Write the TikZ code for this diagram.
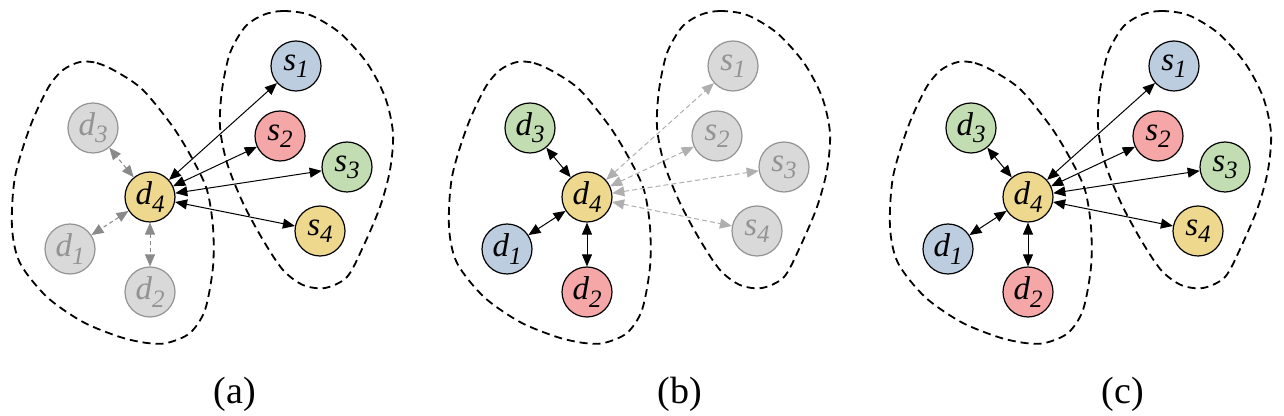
\documentclass[tikz,border=0pt]{standalone}
\usepackage{fontspec}
\setmainfont{Liberation Serif}
\usetikzlibrary{arrows.meta}
\definecolor{agentblue}{HTML}{BDCDE0}
\definecolor{agentred}{HTML}{F4A7A6}
\definecolor{agentgreen}{HTML}{C2DDB1}
\definecolor{agentyellow}{HTML}{EED88E}
\definecolor{fadefill}{HTML}{D9D9D9}
\definecolor{fadeline}{HTML}{939393}
\definecolor{dimgray}{HTML}{8A8A8A}
\definecolor{palegray}{HTML}{AFAFAF}
\newcommand{\idx}[1]{\raisebox{-0.22em}{\fontsize{12.5}{14}\selectfont #1}}
\tikzset{
		agent/.style={circle, draw, line width=0.6pt, minimum size=25pt, inner sep=0pt, font=\fontsize{16.5}{18}\selectfont\itshape},
		cblue/.style={fill=agentblue},
		cred/.style={fill=agentred},
		cgreen/.style={fill=agentgreen},
		cyellow/.style={fill=agentyellow},
		faded/.style={fill=fadefill, draw=fadeline, text=fadeline},
		plain/.style={},
		link/.style={<->, line width=0.5pt, >={Triangle[length=6pt, width=5pt]}},
		dimlink/.style={link, color=dimgray, dash pattern=on 2pt off 1.5pt},
		palelink/.style={link, color=palegray, dash pattern=on 2.5pt off 1.5pt},
		region/.style={line width=0.9pt, dash pattern=on 4pt off 2.5pt},
		caption/.style={font=\fontsize{19}{22}\selectfont}
	}

\begin{document}
\begin{tikzpicture}[x=0.5pt, y=-0.5pt]
		\useasboundingbox (0,0) rectangle (1284,416);
		\foreach \p/\dx/\cx/\dsty/\ssty/\dl/\sl in {a/0/235/faded/plain/dimlink/link, b/437/243/plain/faded/link/palelink, c/878/245/plain/plain/link/link}{
			\begin{scope}[shift={(\dx,0)}]
				% the two groups
				\draw[region] plot[smooth cycle] coordinates {(80,62) (97,63) (117,72) (143,90) (173,127) (193,160) (207,190) (213,227) (213,267) (205,310) (190,333) (167,343) (147,343) (120,337) (83,322) (47,297) (20,263) (12,227) (15,177) (30,127) (48,88) (63,70)};
				\draw[region] plot[smooth cycle] coordinates {(263,15) (283,11) (310,15) (340,33) (367,63) (385,97) (393,133) (390,170) (380,207) (363,247) (347,277) (325,288) (303,285) (283,270) (263,240) (243,203) (227,163) (220,127) (222,90) (230,53) (245,27)};

				\node[agent, cyellow]        (\p-d4) at (150,197) {d\idx{4}};
				\node[agent, cblue, \dsty]   (\p-d1) at (70,249)  {d\idx{1}};
				\node[agent, cred, \dsty]    (\p-d2) at (150,292) {d\idx{2}};
				\node[agent, cgreen, \dsty]  (\p-d3) at (93,128)  {d\idx{3}};
				\node[agent, cblue, \ssty]   (\p-s1) at (296,66)  {s\idx{1}};
				\node[agent, cred, \ssty]    (\p-s2) at (280,136) {s\idx{2}};
				\node[agent, cgreen, \ssty]  (\p-s3) at (347,167) {s\idx{3}};
				\node[agent, cyellow, \ssty] (\p-s4) at (320,231) {s\idx{4}};

				\path[\dl] (\p-d4) edge (\p-d1) edge (\p-d2) edge (\p-d3);
				\path[\sl] (\p-d4) edge (\p-s1) edge (\p-s2) edge (\p-s3) edge (\p-s4);

				\node[caption] (\p-cap) at (\cx,394) {(\p)};
			\end{scope}
		}
	\end{tikzpicture}
\end{document}
